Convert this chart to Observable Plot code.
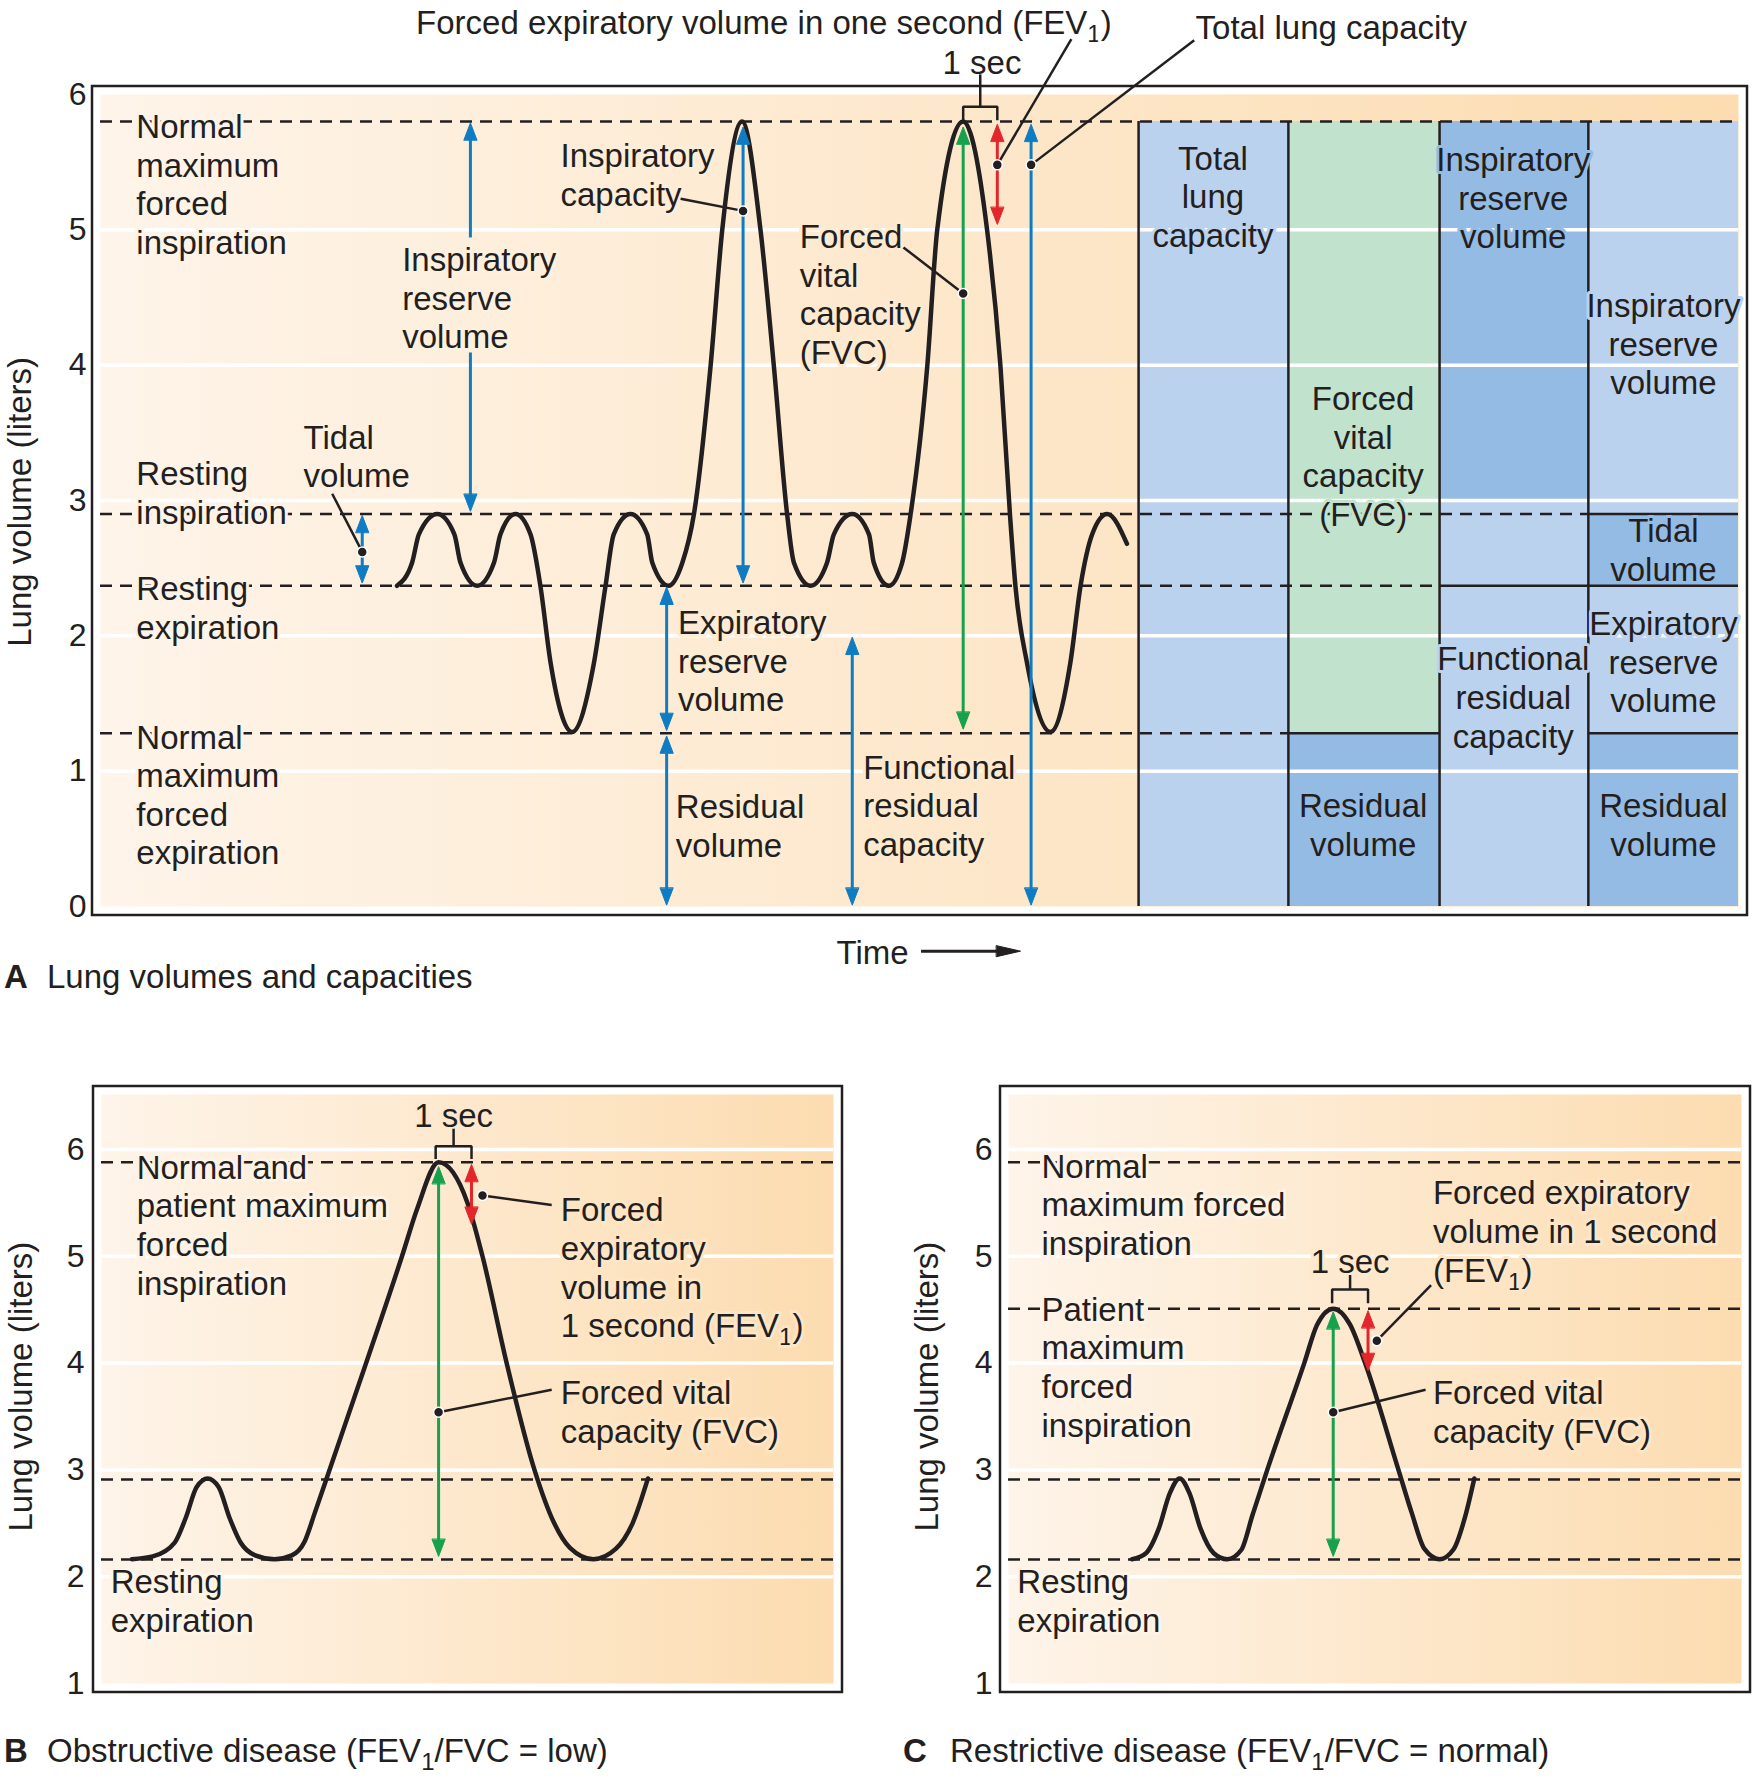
<!DOCTYPE html>
<html>
<head>
<meta charset="utf-8">
<script src="https://cdn.jsdelivr.net/npm/d3@7"></script>
<script src="https://cdn.jsdelivr.net/npm/@observablehq/plot@0.6"></script>
<style>
  body { margin: 0; background: #fff; }
  #root { position: relative; width: 1754px; height: 1779px; font-family: "Liberation Sans", Arial, Helvetica, sans-serif; color: #231f20; }
  .panel { position: absolute; }
  .cap { position: absolute; font-size: 33px; line-height: 36px; white-space: nowrap; }
  .cap.letter { font-weight: bold; }
  .sub { font-size: 24px; position: relative; top: 8px; }
</style>
</head>
<body>
<div id="root"></div>
<script>
const FONT = '"Liberation Sans", Arial, Helvetica, sans-serif';
const INK = "#231f20";
const HUES = {blue: "#0e7cc2", green: "#17a14c", red: "#e3262b"};
const TONES = {pale: "#bbd2ee", deep: "#94bbe4", mint: "#c1e2cc"};
const BG = ["#fef4e9", "#fcdcb0"];

// ================= Panel A : lung volumes and capacities =================
const ticksA = [0, 1, 2, 3, 4, 5, 6];
const gridA = [1, 2, 3, 4, 5];
// spirogram (time in s, volume in L)
const curveA = [
  [8.69, 2.37], [9.13, 2.54], [9.33, 2.75], [9.87, 2.9], [10.37, 2.75], [10.55, 2.54], [11.04, 2.37],
  [11.53, 2.54], [11.72, 2.75], [12.16, 2.9], [12.60, 2.75], [12.89, 2.37], [13.19, 1.8], [13.82, 1.29],
  [14.46, 1.8], [14.80, 2.37], [15.04, 2.75], [15.53, 2.9], [16.02, 2.75], [16.17, 2.54], [16.65, 2.37],
  [17.05, 2.54], [17.39, 2.9], [17.88, 4.0], [18.22, 5.0], [18.80, 5.8], [19.34, 5.0], [19.73, 4.0],
  [20.12, 2.9], [20.32, 2.54], [20.81, 2.37], [21.29, 2.54], [21.49, 2.75], [22.03, 2.9], [22.52, 2.75],
  [22.66, 2.54], [23.10, 2.37], [23.49, 2.54], [23.74, 2.9], [24.23, 4.0], [24.52, 5.0], [25.28, 5.8],
  [25.98, 5.0], [26.37, 4.0], [26.65, 2.9], [26.81, 2.37], [27.15, 1.8], [27.84, 1.29], [28.42, 1.8],
  [28.72, 2.37], [29.06, 2.75], [29.50, 2.9], [30.08, 2.68]
];
const colEdgesA = [30.42, 34.81, 39.24, 43.60, 48];
const cellsA = [
  {col: 0, lo: 0, hi: 5.8, tone: "pale"},
  {col: 1, lo: 1.28, hi: 5.8, tone: "mint"},
  {col: 1, lo: 0, hi: 1.28, tone: "deep"},
  {col: 2, lo: 3.0, hi: 5.8, tone: "deep"},
  {col: 2, lo: 0, hi: 3.0, tone: "pale"},
  {col: 3, lo: 2.9, hi: 5.8, tone: "pale"},
  {col: 3, lo: 2.37, hi: 2.9, tone: "deep"},
  {col: 3, lo: 1.28, hi: 2.37, tone: "pale"},
  {col: 3, lo: 0, hi: 1.28, tone: "deep"}
];
const dashedA = [
  {v: 5.8, from: 0, to: 48},
  {v: 2.9, from: 0, to: 43.60},
  {v: 2.37, from: 0, to: 39.24},
  {v: 1.28, from: 0, to: 34.81}
];
const solidA = [
  {v: 2.9, from: 43.60, to: 48},
  {v: 2.37, from: 39.24, to: 48},
  {v: 1.28, from: 34.81, to: 39.24},
  {v: 1.28, from: 43.60, to: 48}
];
const arrowsA = [
  {t: 7.67, top: 2.89, bottom: 2.39, hue: "blue", heads: "both"},
  {t: 10.84, top: 5.79, bottom: 4.94, hue: "blue", heads: "top"},
  {t: 10.84, top: 4.09, bottom: 2.92, hue: "blue", heads: "bottom"},
  {t: 18.83, top: 5.76, bottom: 2.39, hue: "blue", heads: "both"},
  {t: 16.59, top: 2.36, bottom: 1.3, hue: "blue", heads: "both"},
  {t: 16.59, top: 1.26, bottom: 0.01, hue: "blue", heads: "both"},
  {t: 22.03, top: 1.99, bottom: 0.01, hue: "blue", heads: "both"},
  {t: 25.28, top: 5.76, bottom: 1.31, hue: "green", heads: "both"},
  {t: 26.28, top: 5.78, bottom: 5.04, hue: "red", heads: "both"},
  {t: 27.27, top: 5.78, bottom: 0.01, hue: "blue", heads: "both"}
];
const dotsA = [
  {t: 7.67, v: 2.62}, {t: 18.83, v: 5.14}, {t: 25.28, v: 4.53}, {t: 26.28, v: 5.48}, {t: 27.27, v: 5.48}
];
const leadersA = [
  {t1: 6.79, v1: 3.05, t2: 7.67, v2: 2.62},
  {t1: 17.0, v1: 5.23, t2: 18.83, v2: 5.14},
  {t1: 23.53, v1: 4.87, t2: 25.28, v2: 4.53},
  {t1: 28.45, v1: 6.41, t2: 26.28, v2: 5.48},
  {t1: 32.05, v1: 6.40, t2: 27.27, v2: 5.48}
];
const bracketA = {left: 25.28, right: 26.28, top: 5.91, foot: 5.81, stem: 6.145};
const timeArrowA = {from: 24.06, to: 26.96, v: -0.33};
const labelsA = [
  {text: "Normal\nmaximum\nforced\ninspiration", t: 1.05, v: 5.34, align: "start"},
  {text: "Resting\ninspiration", t: 1.05, v: 3.06, align: "start"},
  {text: "Resting\nexpiration", t: 1.05, v: 2.21, align: "start"},
  {text: "Normal\nmaximum\nforced\nexpiration", t: 1.05, v: 0.83, align: "start"},
  {text: "Tidal\nvolume", t: 5.95, v: 3.33, align: "start"},
  {text: "Inspiratory\nreserve\nvolume", t: 8.84, v: 4.50, align: "start"},
  {text: "Inspiratory\ncapacity", t: 13.48, v: 5.41, align: "start"},
  {text: "Forced\nvital\ncapacity\n(FVC)", t: 20.49, v: 4.53, align: "start"},
  {text: "Expiratory\nreserve\nvolume", t: 16.92, v: 1.82, align: "start"},
  {text: "Residual\nvolume", t: 16.86, v: 0.60, align: "start"},
  {text: "Functional\nresidual\ncapacity", t: 22.35, v: 0.75, align: "start"},
  {text: "Total\nlung\ncapacity", t: 32.6, v: 5.25, align: "middle"},
  {text: "Forced\nvital\ncapacity\n(FVC)", t: 37.0, v: 3.33, align: "middle"},
  {text: "Residual\nvolume", t: 37.0, v: 0.61, align: "middle"},
  {text: "Inspiratory\nreserve\nvolume", t: 41.4, v: 5.24, align: "middle"},
  {text: "Functional\nresidual\ncapacity", t: 41.4, v: 1.55, align: "middle"},
  {text: "Inspiratory\nreserve\nvolume", t: 45.8, v: 4.16, align: "middle"},
  {text: "Tidal\nvolume", t: 45.8, v: 2.64, align: "middle"},
  {text: "Expiratory\nreserve\nvolume", t: 45.8, v: 1.81, align: "middle"},
  {text: "Residual\nvolume", t: 45.8, v: 0.61, align: "middle"},
  {text: "Forced expiratory volume in one second (FEV\u2081)", t: 19.44, v: 6.54, align: "middle"},
  {text: "1 sec", t: 25.83, v: 6.24, align: "middle"},
  {text: "Total lung capacity", t: 32.09, v: 6.50, align: "start"},
  {text: "Time", t: 21.57, v: -0.33, align: "start"}
];

// ================= Panel B : obstructive disease =================
const ticksBC = [1, 2, 3, 4, 5, 6];
const gridBC = [2, 3, 4, 5, 6];
const curveB = [
  [0.83, 2.164], [1.4, 2.19], [2.0, 2.32], [2.3, 2.55], [2.6, 2.84], [2.9, 2.92], [3.2, 2.84],
  [3.5, 2.55], [3.8, 2.32], [4.2, 2.2], [4.73, 2.164], [5.2, 2.2], [5.55, 2.33], [5.83, 2.6],
  [6.23, 3.0], [7.23, 4.0], [8.21, 5.0], [8.63, 5.45], [9.21, 5.88], [10.0, 5.5], [10.41, 5.0],
  [11.07, 4.0], [11.83, 3.0], [12.37, 2.5], [12.8, 2.27], [13.44, 2.164], [14.05, 2.26],
  [14.51, 2.5], [14.93, 2.92]
];
const dashedB = [5.88, 2.91, 2.16];
const arrowsB = [
  {t: 9.21, top: 5.84, bottom: 2.19, hue: "green", heads: "both"},
  {t: 10.11, top: 5.86, bottom: 5.30, hue: "red", heads: "both"}
];
const dotsB = [{t: 9.21, v: 3.54}, {t: 10.41, v: 5.57}];
const leadersB = [
  {t1: 12.30, v1: 5.48, t2: 10.41, v2: 5.57},
  {t1: 12.30, v1: 3.75, t2: 9.21, v2: 3.54}
];
const bracketB = {left: 9.13, right: 10.11, top: 6.03, foot: 5.91, stem: 6.19};
const labelsB = [
  {text: "Normal and\npatient maximum\nforced\ninspiration", t: 0.96, v: 5.30, align: "start"},
  {text: "Resting\nexpiration", t: 0.25, v: 1.78, align: "start"},
  {text: "Forced\nexpiratory\nvolume in\n1 second (FEV\u2081)", t: 12.55, v: 4.90, align: "start"},
  {text: "Forced vital\ncapacity (FVC)", t: 12.55, v: 3.55, align: "start"},
  {text: "1 sec", t: 9.62, v: 6.33, align: "middle"}
];

// ================= Panel C : restrictive disease =================
const curveC = [
  [3.37, 2.164], [3.75, 2.22], [4.1, 2.45], [4.4, 2.78], [4.67, 2.92], [4.94, 2.78], [5.24, 2.45],
  [5.6, 2.22], [5.97, 2.164], [6.35, 2.25], [6.66, 2.58], [7.06, 3.0], [8.07, 4.0], [8.42, 4.36],
  [8.86, 4.51], [9.32, 4.36], [9.73, 4.0], [10.64, 3.0], [11.0, 2.6], [11.35, 2.26], [11.76, 2.164],
  [12.15, 2.26], [12.45, 2.55], [12.71, 2.92]
];
const dashedC = [5.88, 4.51, 2.91, 2.16];
const arrowsC = [
  {t: 8.86, top: 4.48, bottom: 2.19, hue: "green", heads: "both"},
  {t: 9.81, top: 4.49, bottom: 3.93, hue: "red", heads: "both"}
];
const dotsC = [{t: 8.86, v: 3.54}, {t: 10.05, v: 4.21}];
const leadersC = [
  {t1: 11.53, v1: 4.73, t2: 10.05, v2: 4.21},
  {t1: 11.38, v1: 3.75, t2: 8.86, v2: 3.54}
];
const bracketC = {left: 8.83, right: 9.81, top: 4.69, foot: 4.56, stem: 4.82};
const labelsC = [
  {text: "Normal\nmaximum forced\ninspiration", t: 0.90, v: 5.49, align: "start"},
  {text: "Patient\nmaximum\nforced\ninspiration", t: 0.90, v: 3.97, align: "start"},
  {text: "Resting\nexpiration", t: 0.24, v: 1.78, align: "start"},
  {text: "Forced expiratory\nvolume in 1 second\n(FEV\u2081)", t: 11.58, v: 5.24, align: "start"},
  {text: "Forced vital\ncapacity (FVC)", t: 11.58, v: 3.55, align: "start"},
  {text: "1 sec", t: 9.32, v: 4.96, align: "middle"}
];

// ================= helpers =================
const SPIKE = {draw(ctx, l, r) { ctx.moveTo(-r, 0); ctx.lineTo(0, -l); ctx.lineTo(r, 0); ctx.closePath(); }};
const bgAt = d3.interpolateRgb(BG[0], BG[1]);
const intFormat = d3.format("d");

function arrowMarks(arrows) {
  const shaft = (list, it, ib) => Plot.ruleX(list, {
    x: "t", y1: "top", y2: "bottom", stroke: d => HUES[d.hue], strokeWidth: 3, insetTop: it, insetBottom: ib
  });
  const heads = arrows.flatMap(a => [
    ...(a.heads !== "bottom" ? [{t: a.t, v: a.top, rot: 0, hue: a.hue}] : []),
    ...(a.heads !== "top" ? [{t: a.t, v: a.bottom, rot: 180, hue: a.hue}] : [])
  ]);
  return [
    shaft(arrows.filter(a => a.heads === "both"), 10, 10),
    shaft(arrows.filter(a => a.heads === "top"), 10, 0),
    shaft(arrows.filter(a => a.heads === "bottom"), 0, 10),
    Plot.vector(heads, {
      x: "t", y: "v", rotate: "rot", length: 17, r: 6.5, anchor: "end", shape: SPIKE,
      fill: d => HUES[d.hue], stroke: d => HUES[d.hue], strokeWidth: 1
    })
  ];
}
function labelMarks(labels, halo) {
  const common = {
    x: "t", y: "v", text: "text", lineHeight: 1.17, fontSize: 33, fill: INK,
    stroke: halo, strokeWidth: 6, strokeLinejoin: "round", paintOrder: "stroke"
  };
  return [
    Plot.text(labels.filter(d => d.align === "start"), {...common, textAnchor: "start"}),
    Plot.text(labels.filter(d => d.align === "middle"), {...common, textAnchor: "middle"})
  ];
}
function bracketMarks(b) {
  const pts = [{t: b.left, v: b.foot}, {t: b.left, v: b.top}, {t: b.right, v: b.top}, {t: b.right, v: b.foot}];
  return [
    Plot.line(pts, {x: "t", y: "v", stroke: INK, strokeWidth: 2.5, strokeLinejoin: "miter", strokeLinecap: "butt"}),
    Plot.ruleX([b], {x: d => (d.left + d.right) / 2, y1: "stem", y2: "top", stroke: INK, strokeWidth: 2.5})
  ];
}
function commonTail(leaders, dots) {
  return [
    Plot.link(leaders, {x1: "t1", y1: "v1", x2: "t2", y2: "v2", stroke: INK, strokeWidth: 2.5}),
    Plot.dot(dots, {x: "t", y: "v", r: 5, fill: INK, stroke: "white", strokeWidth: 1.5})
  ];
}
function axisTitle(v, dx) {
  return Plot.text(["Lung volume (liters)"], {
    text: d => d, y: v, frameAnchor: "left", dx, rotate: -90, textAnchor: "middle", fontSize: 33, fill: INK
  });
}
function addGradient(svg, id) {
  const defs = d3.select(svg).insert("defs", ":first-child");
  const g = defs.append("linearGradient").attr("id", id).attr("x1", 0).attr("x2", 1).attr("y1", 0).attr("y2", 0);
  g.append("stop").attr("offset", 0).attr("stop-color", BG[0]);
  g.append("stop").attr("offset", 1).attr("stop-color", BG[1]);
}
function fixSubscripts(root) {
  const ns = "http://www.w3.org/2000/svg";
  const walker = document.createTreeWalker(root, NodeFilter.SHOW_TEXT);
  const nodes = [];
  while (walker.nextNode()) if (walker.currentNode.nodeValue.includes("\u2081")) nodes.push(walker.currentNode);
  for (const node of nodes) {
    const parent = node.parentNode;
    const idx = node.nodeValue.indexOf("\u2081");
    const before = node.nodeValue.slice(0, idx), after = node.nodeValue.slice(idx + 1);
    const sub = document.createElementNS(ns, "tspan");
    sub.setAttribute("dy", "8"); sub.setAttribute("font-size", "24"); sub.textContent = "1";
    const rest = document.createElementNS(ns, "tspan");
    rest.setAttribute("dy", "-8"); rest.textContent = after;
    parent.insertBefore(document.createTextNode(before), node);
    parent.insertBefore(sub, node);
    parent.insertBefore(rest, node);
    parent.removeChild(node);
  }
}
const baseStyle = {background: "transparent", fontFamily: FONT, color: INK, overflow: "visible", fontSize: "33px"};
const root = document.getElementById("root");
function place(svg, left, top, w) {
  const div = document.createElement("div");
  div.className = "panel";
  div.style.left = left + "px"; div.style.top = top + "px"; div.style.width = w + "px";
  div.appendChild(svg);
  root.appendChild(div);
  fixSubscripts(svg);
}

// ================= build Panel A =================
const haloA = d => {
  if (d.v > 6 || d.v < 0) return "white";
  const ci = colEdgesA.findIndex((e, i) => i < colEdgesA.length - 1 && d.t >= e && d.t < colEdgesA[i + 1]);
  if (ci >= 0 && d.v <= 5.8) {
    const cell = cellsA.find(c => c.col === ci && d.v >= c.lo && d.v <= c.hi);
    if (cell) return TONES[cell.tone];
  }
  return bgAt(d.t / 48);
};
const plotA = Plot.plot({
  width: 1754, height: 1000,
  marginLeft: 100, marginRight: 16, marginTop: 94, marginBottom: 94,
  x: {domain: [0, 48], axis: null},
  y: {domain: [0, 6]},
  style: baseStyle,
  marks: [
    Plot.frame({fill: "url(#gradA)", stroke: "none"}),
    Plot.rect(cellsA, {x1: d => colEdgesA[d.col], x2: d => colEdgesA[d.col + 1], y1: "lo", y2: "hi", fill: d => TONES[d.tone]}),
    Plot.ruleY(gridA, {stroke: "white", strokeWidth: 3.5}),
    Plot.ruleY(dashedA, {y: "v", x1: "from", x2: "to", stroke: INK, strokeWidth: 2.5, strokeDasharray: "12,8"}),
    Plot.ruleY(solidA, {y: "v", x1: "from", x2: "to", stroke: INK, strokeWidth: 2.5}),
    Plot.ruleX(colEdgesA.slice(0, 4), {x: d => d, y1: 0, y2: 5.8, stroke: INK, strokeWidth: 2.5}),
    ...labelMarks(labelsA, haloA),
    Plot.line(curveA, {x: d => d[0], y: d => d[1], curve: "monotone-x", stroke: INK, strokeWidth: 4.5, strokeLinecap: "round"}),
    ...arrowMarks(arrowsA),
    ...bracketMarks(bracketA),
    ...commonTail(leadersA, dotsA),
    Plot.ruleY([timeArrowA], {y: "v", x1: "from", x2: "to", stroke: INK, strokeWidth: 3, insetRight: 12}),
    Plot.vector([timeArrowA], {x: "to", y: "v", rotate: 90, length: 24, r: 5.5, anchor: "end", shape: SPIKE, fill: INK, stroke: INK, strokeWidth: 1}),
    Plot.frame({stroke: INK, strokeWidth: 2.5, inset: -8.5}),
    Plot.axisY(ticksA, {tickSize: 0, tickPadding: 14, fontSize: 32, tickFormat: intFormat, label: null}),
    axisTitle(2.99, -80)
  ]
});
addGradient(plotA, "gradA");
place(plotA, 0, 0, 1754);

// ================= build Panels B and C =================
function diseasePanel(cfg) {
  const halo = d => (d.v > 6.515 || d.v < 1) ? "white" : bgAt(d.t / 20);
  const svg = Plot.plot({
    width: 877, height: 739,
    marginLeft: cfg.ml, marginRight: cfg.mr, marginTop: 54, marginBottom: 96,
    x: {domain: [0, 20], axis: null},
    y: {domain: [1, 6.515]},
    style: baseStyle,
    marks: [
      Plot.frame({fill: `url(#${cfg.grad})`, stroke: "none"}),
      Plot.ruleY(gridBC, {stroke: "white", strokeWidth: 3.5}),
      Plot.ruleY(cfg.dashed, {stroke: INK, strokeWidth: 2.5, strokeDasharray: "12,8"}),
      ...labelMarks(cfg.labels, halo),
      Plot.line(cfg.curve, {x: d => d[0], y: d => d[1], curve: "monotone-x", stroke: INK, strokeWidth: 4.5, strokeLinecap: "round"}),
      ...arrowMarks(cfg.arrows),
      ...bracketMarks(cfg.bracket),
      ...commonTail(cfg.leaders, cfg.dots),
      Plot.frame({stroke: INK, strokeWidth: 2.5, inset: -8.5}),
      Plot.axisY(ticksBC, {tickSize: 0, tickPadding: cfg.pad, fontSize: 32, tickFormat: intFormat, label: null}),
      axisTitle(3.78, cfg.titleDx)
    ]
  });
  addGradient(svg, cfg.grad);
  return svg;
}
place(diseasePanel({ml: 101, mr: 44, pad: 17, titleDx: -80, grad: "gradB", dashed: dashedB, labels: labelsB,
  curve: curveB, arrows: arrowsB, bracket: bracketB, leaders: leadersB, dots: dotsB}), 0, 1040, 877);
place(diseasePanel({ml: 131, mr: 13, pad: 16, titleDx: -81, grad: "gradC", dashed: dashedC, labels: labelsC,
  curve: curveC, arrows: arrowsC, bracket: bracketC, leaders: leadersC, dots: dotsC}), 877, 1040, 877);

// ================= captions =================
const captions = [
  {letter: "A", html: "Lung volumes and capacities", x: 4, tx: 47, y: 978},
  {letter: "B", html: 'Obstructive disease (FEV<span class="sub">1</span>/FVC = low)', x: 4, tx: 47, y: 1752},
  {letter: "C", html: 'Restrictive disease (FEV<span class="sub">1</span>/FVC = normal)', x: 903, tx: 950, y: 1752}
];
for (const c of captions) {
  const a = document.createElement("div");
  a.className = "cap letter"; a.textContent = c.letter;
  a.style.left = c.x + "px"; a.style.top = (c.y - 19) + "px";
  const b = document.createElement("div");
  b.className = "cap"; b.innerHTML = c.html;
  b.style.left = c.tx + "px"; b.style.top = (c.y - 19) + "px";
  root.appendChild(a); root.appendChild(b);
}
</script>
</body>
</html>
